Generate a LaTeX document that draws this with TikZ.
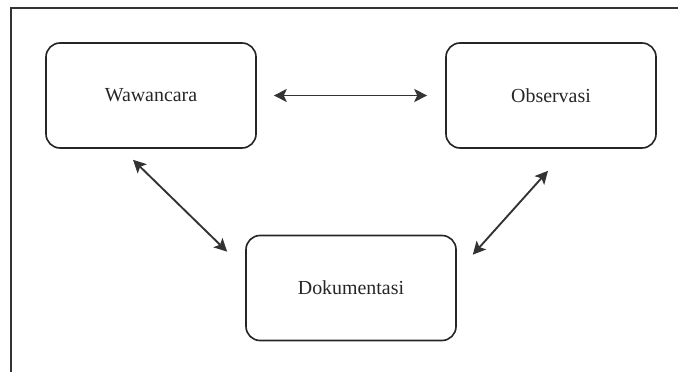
\documentclass[tikz,border=0pt]{standalone}
\usepackage{fontspec}
\setmainfont{Liberation Serif}
\usepackage{tikz}
\usetikzlibrary{arrows.meta}

\tikzset{
  kotak/.style={draw=black!85, line width=1.4pt, rounded corners=12pt, minimum width=6.3cm, minimum height=3.15cm, font=\fontsize{17}{20}\selectfont, text=black!85},
  panah/.style={line width=1.6pt, draw=black!80, {Stealth[length=11pt,width=11pt,inset=2.5pt]}-{Stealth[length=11pt,width=11pt,inset=2.5pt]}}
}

\begin{document}
\begin{tikzpicture}[x=0.03cm, y=-0.03cm]
\useasboundingbox (0,0) rectangle (678,372);
\draw[black!80, line width=1.5pt] (678,8) -- (11,8) -- (11,372);
\node[kotak] (waw) at (151,95.5) {Wawancara};
\node[kotak] (obs) at (551,95.5) {Observasi};
\node[kotak] (dok) at (351,288) {Dokumentasi};
\draw[panah] ([shift={(17,0)}]waw.east) -- ([shift={(-18,0)}]obs.west);
\draw[panah] ([shift={(-18,11)}]waw.south) -- ([shift={(-18,17)}]dok.north west);
\draw[panah] ([shift={(16,20)}]dok.north east) -- ([shift={(-3,22)}]obs.south);
\end{tikzpicture}
\end{document}
